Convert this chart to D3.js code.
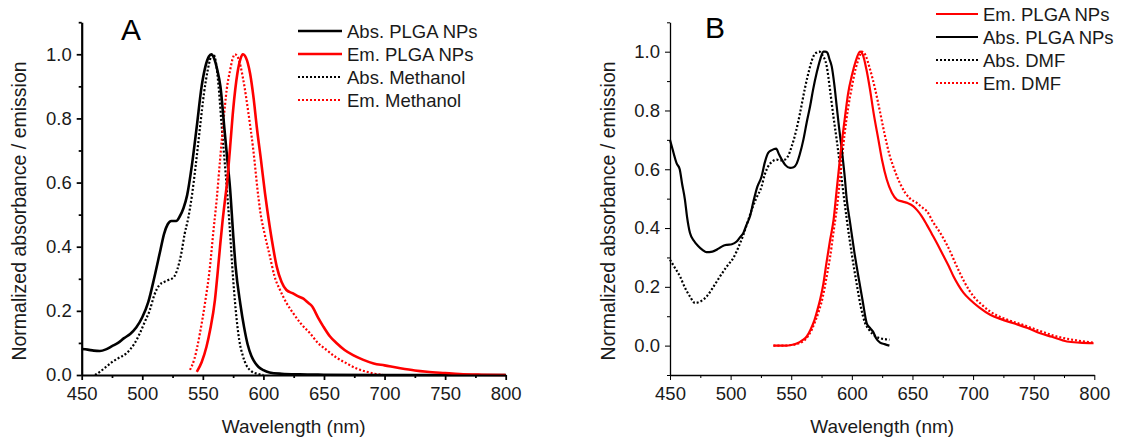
<!DOCTYPE html>
<html>
<head>
<meta charset="utf-8">
<script src="https://cdn.jsdelivr.net/npm/d3@7"></script>
<style>
  html, body { margin: 0; padding: 0; background: #fff; }
  svg { display: block; font-family: "Liberation Sans", Arial, sans-serif; }
</style>
</head>
<body>
<svg id="chart" width="1122" height="439"></svg>
<script>
// ---------------- DATA ----------------
// Panel A
const absPlgaA_nm = [450,455,460,465,470,475,480,485,490,495,500,505,510,515,518,521,524,528,531,534,537,541,545,549,552,555,557,559,562,564.5,568,570,572.5,575,577,581,584,587,590,592,596,600,605,615,630,650,700,800];
const absPlgaA_v  = [0.081,0.079,0.076,0.075,0.08,0.09,0.1,0.115,0.128,0.148,0.18,0.228,0.305,0.39,0.44,0.47,0.48,0.48,0.495,0.52,0.56,0.655,0.775,0.9,0.96,0.993,1.0,0.99,0.95,0.9,0.76,0.68,0.58,0.44,0.34,0.22,0.15,0.095,0.06,0.045,0.025,0.015,0.008,0.004,0.002,0.001,0,0];

const emPlgaA_nm = [545,549,553,556,560,562,564.2,566,568.3,570,572.5,575,578.5,581,583,585.5,589,592,594.5,598,601.3,603,607,611,615,619,624,628.8,633,637,640,645,649.5,655,660.5,667,674,682,691,700,713,725,735,750,762,780,800];
const emPlgaA_v  = [0.01,0.04,0.088,0.14,0.234,0.31,0.4,0.47,0.546,0.6,0.71,0.826,0.94,0.985,1.0,0.99,0.94,0.86,0.774,0.67,0.567,0.52,0.42,0.338,0.29,0.265,0.255,0.245,0.238,0.225,0.215,0.18,0.151,0.12,0.099,0.078,0.062,0.048,0.036,0.03,0.021,0.014,0.01,0.006,0.003,0.001,0];

const absMeOH_nm = [461,465,470,475,480,487,493,498,502,506,510,514,518,522,526,529,532,535,538,541,544,547.6,551,554,556.5,558.5,561,563,565.6,569.7,572,575,578,580,583,586,590,595,600];
const absMeOH_v  = [0,0.01,0.025,0.04,0.052,0.068,0.095,0.13,0.165,0.2,0.25,0.28,0.29,0.297,0.305,0.33,0.375,0.44,0.49,0.56,0.65,0.77,0.88,0.95,0.99,1.0,0.97,0.9,0.774,0.587,0.47,0.3,0.17,0.11,0.06,0.03,0.012,0.004,0];

const emMeOH_nm = [539.4,543,547.6,552,555.9,558.5,561.4,564.2,567,569.7,572.5,574.5,576.5,579,583.4,587.5,591.7,595.8,597.6,601,605.4,609,613.7,619,624.7,631,638.5,645,652.2,660,668.8,677,685.3,692,699];
const emMeOH_v  = [0.016,0.05,0.13,0.23,0.338,0.44,0.546,0.67,0.79,0.89,0.95,0.985,1.0,0.99,0.92,0.82,0.70,0.556,0.504,0.44,0.369,0.31,0.265,0.225,0.192,0.16,0.13,0.1,0.078,0.055,0.036,0.02,0.01,0.004,0];

// Panel B
const emPlgaB_nm = [535.3,545,550,555,559,562.8,566,569,571.5,573.8,576.5,579,582.1,585,587.5,590.3,594.4,597,599.9,603,606.8,609,612,615,618,621.9,625,628.8,633,637.1,642,646,650.8,654,657.7,662,666,670.1,675,680,683.9,688,692,697.6,705,714.1,723,733.4,745,755.4,765,777.4,788,799.4];
const emPlgaB_v  = [0,0,0.002,0.008,0.018,0.031,0.055,0.085,0.12,0.156,0.21,0.28,0.36,0.43,0.53,0.64,0.78,0.86,0.917,0.965,1.0,0.99,0.94,0.871,0.79,0.701,0.63,0.565,0.52,0.497,0.49,0.485,0.474,0.46,0.44,0.41,0.38,0.349,0.31,0.27,0.235,0.205,0.18,0.156,0.13,0.105,0.09,0.076,0.06,0.042,0.03,0.014,0.01,0.008];

const absPlgaB_nm = [450,452,455.5,458,460,462.3,464,466.5,470,473,477,480,485,490,494,497,501,505,508,510.5,513,516,518.8,522,525.6,528,531,534,537.5,540,542.2,545,549,552,554.6,557,560,562.8,565.6,568,571,574,576.5,578,579.8,581.5,583.4,585.5,587.5,589.5,591.7,594,595.8,598.6,602,605.4,609,612.3,615,617.8,620,623.3,627,631];
const absPlgaB_v  = [0.70,0.67,0.62,0.6,0.55,0.497,0.44,0.383,0.355,0.34,0.325,0.318,0.32,0.33,0.34,0.343,0.345,0.354,0.37,0.383,0.41,0.44,0.49,0.54,0.576,0.62,0.656,0.665,0.67,0.65,0.633,0.615,0.605,0.607,0.62,0.65,0.70,0.76,0.815,0.87,0.928,0.975,1.0,1.0,0.997,0.975,0.95,0.89,0.815,0.74,0.667,0.58,0.497,0.417,0.32,0.235,0.15,0.076,0.06,0.045,0.025,0.01,0.005,0];

const absDmf_nm = [450,454,458.3,462,466.5,470.6,475,480.2,485,491.2,497,502.2,507,510.5,514,517.4,521,525.6,528,531,534,538,541,544.9,548,550.4,554,557.3,561,564.2,567,569,571.1,573,575.5,579.3,582,584.8,587.5,590.3,593,595.8,600,604,607.5,611,614,617,620,623.3,627,631];
const absDmf_v  = [0.292,0.265,0.235,0.2,0.167,0.145,0.15,0.167,0.195,0.235,0.27,0.298,0.34,0.377,0.42,0.462,0.5,0.542,0.58,0.61,0.625,0.633,0.63,0.633,0.65,0.678,0.73,0.792,0.87,0.928,0.97,0.99,0.997,1.0,0.99,0.95,0.87,0.78,0.7,0.61,0.52,0.43,0.31,0.21,0.13,0.076,0.055,0.04,0.03,0.025,0.022,0.02];

const emDmf_nm = [535.3,545,550,555,560,564,567,570,573,576,579,582,585,588,591,594,597,600,603,606,608.2,611,615,619.3,623,627,631,635,640,644,648,653.5,658,662,667,673,680,686.6,693,700.4,707,714.1,727,741.6,755,769.2,785,799.4];
const emDmf_v  = [0,0,0.002,0.006,0.015,0.033,0.055,0.085,0.12,0.165,0.23,0.3,0.39,0.48,0.6,0.72,0.81,0.88,0.94,0.98,1.0,0.99,0.94,0.871,0.8,0.72,0.65,0.6,0.55,0.52,0.5,0.486,0.47,0.457,0.42,0.383,0.33,0.269,0.215,0.167,0.14,0.116,0.09,0.07,0.05,0.031,0.018,0.01];

// Axis ticks
const xMajorTicks = [450,500,550,600,650,700,750,800];
const xMinorTicks = [475,525,575,625,675,725,775];
const yMajorTicks = [0.0,0.2,0.4,0.6,0.8,1.0];
const yMinorTicksA = [0.1,0.3,0.5,0.7,0.9,1.1];
const yMinorTicksB = [-0.1,0.1,0.3,0.5,0.7,0.9,1.1];

const legendA = ["Abs. PLGA NPs","Em. PLGA NPs","Abs. Methanol","Em. Methanol"];
const legendB = ["Em. PLGA NPs","Abs. PLGA NPs","Abs. DMF","Em. DMF"];

const xTitle = "Wavelength (nm)";
const yTitle = "Normalized absorbance / emission";

// ---------------- DRAW ----------------
const svg = d3.select("#chart");
const RED = "#ff0000", BLACK = "#000000";

function zip(xs, ys) { return xs.map((x, i) => [x, ys[i]]); }

function panel(opt) {
  const x = d3.scaleLinear().domain([450, 800]).range([opt.left, opt.right]);
  const y = d3.scaleLinear().domain(opt.yDomain).range([opt.bottom, opt.top]);
  const g = svg.append("g");

  // series
  const line = d3.line().x(d => x(d[0])).y(d => y(d[1])).curve(d3.curveMonotoneX);
  opt.series.forEach(s => {
    g.append("path").datum(zip(s.nm, s.v))
      .attr("fill", "none").attr("stroke", s.color)
      .attr("stroke-width", s.dotted ? opt.dotW : opt.lineW)
      .attr("stroke-dasharray", s.dotted ? opt.dash : null)
      .attr("stroke-linejoin", "round")
      .attr("d", line);
  });

  // axes
  const fs = "18.5px";
  const xAx = g.append("g").attr("transform", `translate(0,${opt.bottom})`)
    .call(d3.axisBottom(x).tickValues(xMajorTicks).tickFormat(d3.format("d")).tickSize(5).tickSizeOuter(0).tickPadding(7));
  g.append("g").attr("transform", `translate(0,${opt.bottom})`)
    .call(d3.axisBottom(x).tickValues(xMinorTicks).tickFormat("").tickSize(3).tickSizeOuter(0))
    .select(".domain").remove();
  const yAx = g.append("g").attr("transform", `translate(${opt.left},0)`)
    .call(d3.axisLeft(y).tickValues(yMajorTicks).tickFormat(d3.format(".1f")).tickSize(5).tickSizeOuter(0).tickPadding(5));
  g.append("g").attr("transform", `translate(${opt.left},0)`)
    .call(d3.axisLeft(y).tickValues(opt.yMinor).tickFormat("").tickSize(3).tickSizeOuter(0))
    .select(".domain").remove();

  g.selectAll(".domain").attr("stroke-width", opt.axisW).attr("stroke", "#000");
  g.selectAll(".tick line").attr("stroke-width", opt.axisW * 0.8).attr("stroke", "#000");
  g.selectAll(".tick text").attr("font-size", fs).attr("fill", "#1a1a1a")
    .attr("font-family", '"Liberation Sans", Arial, sans-serif');

  // titles
  g.append("text").attr("x", (opt.left + opt.right) / 2).attr("y", 433)
    .attr("text-anchor", "middle").attr("font-size", "19px").attr("fill", "#1a1a1a").text(xTitle);
  g.append("text").attr("transform", `translate(${opt.yTitleX},${211}) rotate(-90)`)
    .attr("text-anchor", "middle").attr("font-size", "19.5px").attr("fill", "#1a1a1a").text(yTitle);

  // panel letter
  g.append("text").attr("x", opt.letterX).attr("y", opt.letterY)
    .attr("font-size", "30px").attr("fill", "#000").text(opt.letter);

  // legend
  opt.legend.forEach((lab, i) => {
    const s = opt.legendSeries[i];
    const cy = opt.legY + i * opt.legDy;
    g.append("line").attr("x1", opt.legX1).attr("x2", opt.legX2).attr("y1", cy).attr("y2", cy)
      .attr("stroke", s.color).attr("stroke-width", s.dotted ? opt.dotW : opt.lineW)
      .attr("stroke-dasharray", s.dotted ? opt.dash : null);
    g.append("text").attr("x", opt.legX2 + 5).attr("y", cy + 6.5)
      .attr("font-size", "18.5px").attr("fill", "#1a1a1a").text(lab);
  });
}

const sA = {
  absPlga: {nm: absPlgaA_nm, v: absPlgaA_v, color: BLACK, dotted: false},
  emPlga:  {nm: emPlgaA_nm,  v: emPlgaA_v,  color: RED,   dotted: false},
  absMeOH: {nm: absMeOH_nm,  v: absMeOH_v,  color: BLACK, dotted: true},
  emMeOH:  {nm: emMeOH_nm,   v: emMeOH_v,   color: RED,   dotted: true}
};
panel({
  left: 81.7, right: 505.7, top: 22.2, bottom: 375, yDomain: [0, 1.1], yMinor: yMinorTicksA,
  lineW: 2.6, dotW: 2.2, dash: "2,2", axisW: 2.2,
  series: [sA.absMeOH, sA.emMeOH, sA.absPlga, sA.emPlga],
  legend: legendA, legendSeries: [sA.absPlga, sA.emPlga, sA.absMeOH, sA.emMeOH],
  legX1: 298, legX2: 342, legY: 31, legDy: 23,
  yTitleX: 25.5, letter: "A", letterX: 121, letterY: 40
});

const sB = {
  emPlga:  {nm: emPlgaB_nm,  v: emPlgaB_v,  color: RED,   dotted: false},
  absPlga: {nm: absPlgaB_nm, v: absPlgaB_v, color: BLACK, dotted: false},
  absDmf:  {nm: absDmf_nm,   v: absDmf_v,   color: BLACK, dotted: true},
  emDmf:   {nm: emDmf_nm,    v: emDmf_v,    color: RED,   dotted: true}
};
panel({
  left: 670, right: 1094.3, top: 22.3, bottom: 375, yDomain: [-0.1, 1.1], yMinor: yMinorTicksB,
  lineW: 2.2, dotW: 2.2, dash: "2,2", axisW: 1.3,
  series: [sB.absDmf, sB.emDmf, sB.absPlga, sB.emPlga],
  legend: legendB, legendSeries: [sB.emPlga, sB.absPlga, sB.absDmf, sB.emDmf],
  legX1: 936, legX2: 978, legY: 14, legDy: 23,
  yTitleX: 615, letter: "B", letterX: 705, letterY: 38
});
</script>
</body>
</html>
